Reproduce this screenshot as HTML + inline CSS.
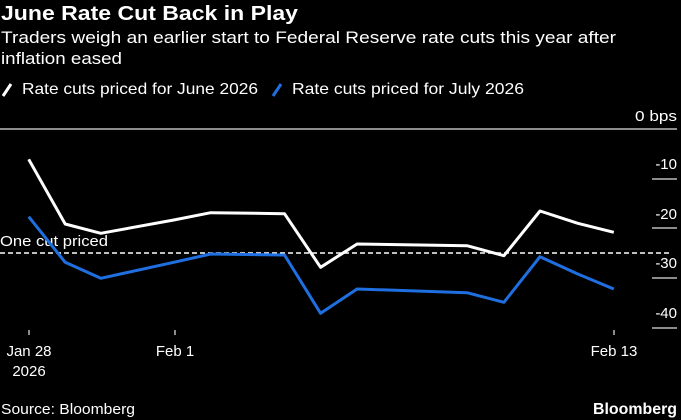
<!DOCTYPE html>
<html><head><meta charset="utf-8"><style>
html,body{margin:0;padding:0;background:#000;}
svg{display:block;}
text{font-family:"Liberation Sans",sans-serif;fill:#fff;}
</style></head><body>
<svg width="681" height="420" xmlns="http://www.w3.org/2000/svg">
<rect width="681" height="420" fill="#000"/>
<text x="1" y="20" font-size="20" font-weight="bold" textLength="297" lengthAdjust="spacingAndGlyphs">June Rate Cut Back in Play</text>
<text x="1" y="43" font-size="17" textLength="615" lengthAdjust="spacingAndGlyphs">Traders weigh an earlier start to Federal Reserve rate cuts this year after</text>
<text x="1" y="64" font-size="17" textLength="121" lengthAdjust="spacingAndGlyphs">inflation eased</text>
<line x1="3" y1="96" x2="11" y2="84" stroke="#fff" stroke-width="3"/>
<text x="22" y="94" font-size="16" textLength="236" lengthAdjust="spacingAndGlyphs">Rate cuts priced for June 2026</text>
<line x1="273" y1="96" x2="281" y2="84" stroke="#1f6fe0" stroke-width="3"/>
<text x="292" y="94" font-size="16" textLength="232" lengthAdjust="spacingAndGlyphs">Rate cuts priced for July 2026</text>
<text x="677" y="121" font-size="15" text-anchor="end" textLength="42" lengthAdjust="spacingAndGlyphs">0 bps</text>
<line x1="0" y1="129" x2="677" y2="129" stroke="#bbb" stroke-width="1.5"/>
<g stroke="#bbb" stroke-width="1.5">
<line x1="652" y1="179" x2="677" y2="179"/>
<line x1="652" y1="228" x2="677" y2="228"/>
<line x1="652" y1="278" x2="677" y2="278"/>
<line x1="652" y1="328" x2="677" y2="328"/>
<line x1="29" y1="330" x2="29" y2="335"/>
<line x1="175" y1="330" x2="175" y2="335"/>
<line x1="614" y1="330" x2="614" y2="335"/>
</g>
<g font-size="15" text-anchor="end">
<text x="677" y="169">-10</text>
<text x="677" y="219">-20</text>
<text x="677" y="268">-30</text>
<text x="677" y="318">-40</text>
</g>
<line x1="0" y1="253" x2="672" y2="253" stroke="#fff" stroke-width="1.5" stroke-dasharray="5,3"/>
<text x="0" y="246" font-size="15" textLength="108" lengthAdjust="spacingAndGlyphs">One cut priced</text>
<polyline fill="none" stroke="#1f6fe0" stroke-width="3" stroke-linejoin="round" points="28.7,216.7 65.2,262.3 100.8,278.3 173.8,262.3 210.7,254 284.5,255 320.6,313.3 357.1,289 467,292.7 503.9,302.3 540,256.7 577.8,274 613.8,289"/>
<polyline fill="none" stroke="#fff" stroke-width="3" stroke-linejoin="round" points="28.7,159.3 65.2,224 100.8,233.3 173.8,220 210.7,212.7 284.5,213.7 320.6,267.3 357.1,244 467,245.7 503.9,255.7 540,211 577.8,223.3 613.8,232.3"/>
<g font-size="15" text-anchor="middle">
<text x="29" y="356">Jan 28</text>
<text x="29" y="376">2026</text>
<text x="175" y="356">Feb 1</text>
<text x="614" y="356">Feb 13</text>
</g>
<text x="1" y="414" font-size="15" textLength="134" lengthAdjust="spacingAndGlyphs">Source: Bloomberg</text>
<text x="677" y="414" font-size="16" font-weight="bold" text-anchor="end" textLength="84" lengthAdjust="spacingAndGlyphs">Bloomberg</text>
</svg>
</body></html>
